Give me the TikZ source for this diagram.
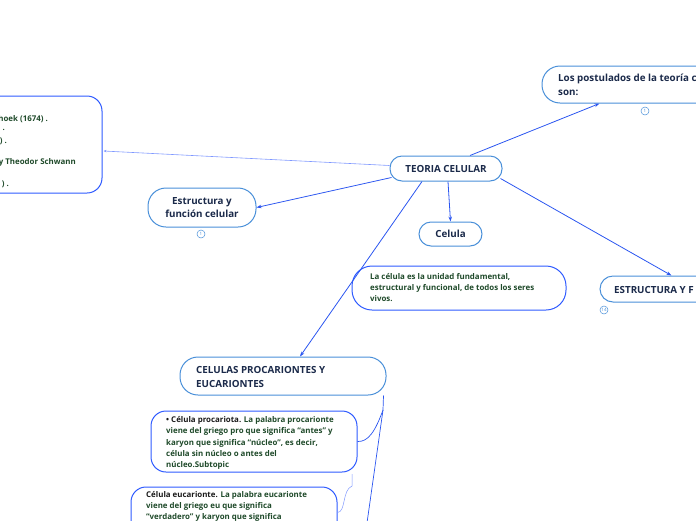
\documentclass[tikz,border=0pt]{standalone}
\usepackage{fontspec}
\setmainfont{Open Sans}
\usetikzlibrary{arrows.meta,calc}
\definecolor{lb}{HTML}{4A90D9}
\definecolor{db}{HTML}{2F5BFF}
\definecolor{ln}{HTML}{2A55F0}
\definecolor{lln}{HTML}{7F98FF}
\definecolor{tn}{HTML}{1B2A4A}
\definecolor{tg}{HTML}{1F4A2A}
\definecolor{tk}{HTML}{1A1A1A}
\begin{document}
\begin{tikzpicture}[x=1pt,y=-1pt,
 lbox/.style={draw=lb, line width=1pt, rounded corners=12pt, fill=white},
 dbox/.style={draw=db, line width=1pt, rounded corners=15pt, fill=white},
 ttl/.style={font=\fontsize{9.8}{14}\selectfont\bfseries, text=tn, align=left, anchor=west, inner sep=0pt},
 ctl/.style={font=\fontsize{9.8}{13}\selectfont\bfseries, text=tn, align=center},
 body/.style={font=\fontsize{7.9}{11.2}\selectfont\bfseries, text=tg, align=left, anchor=west, inner sep=0pt},
 conn/.style={draw=ln, line width=0.8pt, -{Stealth[length=5pt,width=3.5pt]}},
 tconn/.style={draw=ln, line width=0.7pt},
 badge/.style={circle, draw=lb, line width=0.5pt, minimum size=8pt, inner sep=0pt, font=\fontsize{4.5}{5}\selectfont, text=lb, fill=white}]
\useasboundingbox (0,0) rectangle (696,520);
\clip (0,0) rectangle (696,520);

% boxes
\node[dbox, minimum width=160pt, minimum height=97pt] (left) at (22,144.5) {};
\node[body, anchor=east] (l1) at (48,119) {hoek (1674) .};
\node[body, anchor=east] (l2) at (5,130) {.};
\node[body, anchor=east] (l3) at (7,141) {) .};
\node[body, anchor=east] (l4) at (76,162) {y Theodor Schwann};
\node[body, anchor=east] (l5) at (9,184) {) .};

\node[lbox, minimum width=112pt, minimum height=25pt, ctl] (teoria) at (446,168.5) {TEORIA CELULAR};

\node[lbox, rounded corners=18pt, minimum width=270pt, minimum height=37pt] (post) at (677,84.5) {};
\node[ttl, align=left] (postt) at (558,85) {Los postulados de la teoría c\\son:};
\node[badge] (b1) at (645,111) {1};

\node[lbox, rounded corners=18pt, minimum width=108pt, minimum height=39pt, ctl] (estr) at (202,207.5) {Estructura y\\función celular};
\node[badge] (b2) at (201,234) {1};

\node[lbox, minimum width=63pt, minimum height=24pt, ctl] (celula) at (450.5,234) {Celula};

\node[dbox, rounded corners=20pt, minimum width=214pt, minimum height=44pt] (unidad) at (459,288) {};
\node[body] (unidadt) at (370,287.5) {La célula es la unidad fundamental,\\estructural y funcional, de todos los seres\\vivos.};

\node[lbox, rounded corners=13pt, minimum width=160pt, minimum height=26pt] (estrf) at (680,289) {};
\node[ttl] (estrft) at (614,290) {ESTRUCTURA Y F};
\node[badge] (b3) at (604,310) {14};

\node[lbox, rounded corners=18pt, minimum width=206pt, minimum height=38pt] (celulas) at (283,376) {};
\node[ttl] (celulast) at (196,377) {CELULAS PROCARIONTES Y\\EUCARIONTES};

\node[dbox, minimum width=206pt, minimum height=61pt] (proc) at (254,441.5) {};
\node[body] (proct) at (166,443) {{\color{tk}• Célula procariota.} La palabra procarionte\\viene del griego pro que significa “antes” y\\karyon que significa “núcleo”, es decir,\\célula sin núcleo o antes del\\núcleo.Subtopic};

\node[dbox, minimum width=206pt, minimum height=80pt] (euc) at (234,527) {};
\node[body, anchor=north west] (euct) at (146,491) {{\color{tk}Célula eucarionte.} La palabra eucarionte\\viene del griego eu que significa\\“verdadero” y karyon que significa};

% connectors
\draw[draw=lln, line width=0.6pt, -{Stealth[length=3pt,width=2.5pt]}] ($(teoria.west)+(0,-3)$) -- ($(left.east)+(1,6.5)$);
\draw[conn] ($(teoria.north)+(24,0)$) -- ($(post.south west)+(58,0)$);
\draw[conn] ($(teoria.south west)+(2,-4)$) -- (estr.east);
\draw[conn] ($(teoria.south)+(2,0)$) -- (celula.north);
\draw[conn] ($(teoria.south east)+(-2,-3)$) -- ($(estrf.north west)+(72,0)$);
\draw[conn] ($(teoria.south)+(-24,0)$) -- ($(celulas.north)+(17,0)$);

\coordinate (j) at (383,410);
\coordinate (down) at (366,530);
\draw[tconn] ($(celulas.south east)+(-3,0)$) -- (j);
\draw[tconn] (j) .. controls (375,432) and (368,442) .. (proc.east);
\draw[tconn] (j) -- (down);
\coordinate (pb) at (352,474);
\draw[draw=lln, line width=0.5pt] (pb) -- (352,486) .. controls (342,490) and (346,512) .. ($(euc.north east)+(0,26)$);
\end{tikzpicture}
\end{document}
